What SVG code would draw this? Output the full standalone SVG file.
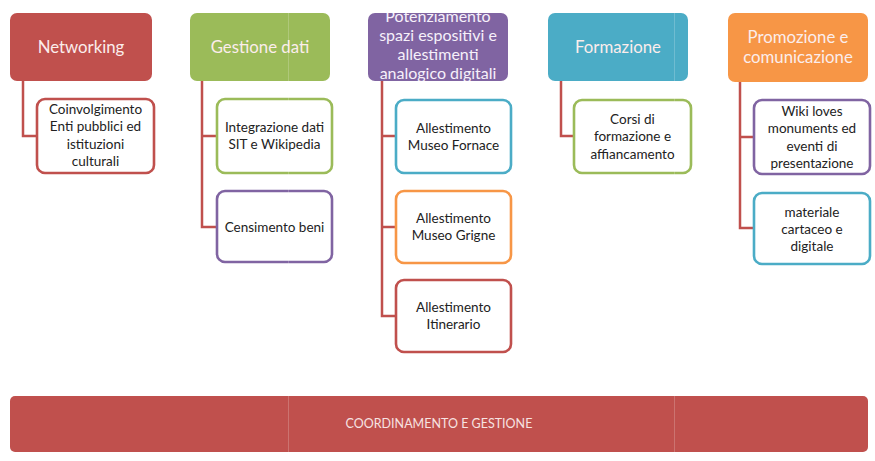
<svg xmlns="http://www.w3.org/2000/svg" width="875" height="461" viewBox="0 0 875 461">
<style>
  .hdr { stroke: none; }
  .ht { font-family: Lato, "Liberation Sans", sans-serif; font-size: 16.8px; fill: #FBEDEC; text-anchor: middle; }
  .pt { font-family: Lato, "Liberation Sans", sans-serif; font-size: 16px; fill: #F6F0FA; text-anchor: middle; }
  .box { fill: #FFFFFF; stroke-width: 2.6; }
  .ct { font-family: Lato, "Liberation Sans", sans-serif; font-size: 13.5px; fill: #222222; text-anchor: middle; }
  .conn { fill: none; stroke: #C0504D; stroke-width: 2.5; }
  .bt { font-family: Lato, "Liberation Sans", sans-serif; font-size: 12.5px; fill: #F7E3E2; text-anchor: middle; }
  .red { stroke: #C0504D; }
  .green { stroke: #9BBB59; }
  .purple { stroke: #8064A2; }
  .teal { stroke: #4BACC6; }
  .orange { stroke: #F79646; }
</style>
<defs>
  <clipPath id="potClip">
    <rect x="368" y="13" width="140" height="68" rx="7"/>
  </clipPath>
</defs>
<rect x="0" y="0" width="875" height="461" fill="#FFFFFF"/>

<g id="connectors">
  <path class="conn" d="M23,81 V136 H37"/>
  <path class="conn" d="M202,81 V227 H217 M202,136 H217"/>
  <path class="conn" d="M382,81 V316 H396 M382,136 H396 M382,227 H396"/>
  <path class="conn" d="M561,81 V136 H574"/>
  <path class="conn" d="M740,82 V228 H754 M740,137 H754"/>
</g>

<g id="networking">
  <rect class="hdr" x="10" y="13" width="142" height="68" rx="7" fill="#C0504D"/>
  <text class="ht" x="81" y="53">Networking</text>
</g>
<g id="coinvolgimento">
  <rect class="box red" x="37" y="99" width="117" height="74" rx="8"/>
  <text class="ct" x="95.5" y="114">Coinvolgimento</text>
  <text class="ct" x="95.5" y="131.3">Enti pubblici ed</text>
  <text class="ct" x="95.5" y="148.6">istituzioni</text>
  <text class="ct" x="95.5" y="165.9">culturali</text>
</g>

<g id="gestione">
  <rect class="hdr" x="190" y="13" width="140" height="68" rx="7" fill="#9BBB59"/>
  <text class="ht" x="260" y="53">Gestione dati</text>
</g>
<g id="integrazione">
  <rect class="box green" x="217" y="99" width="115" height="74" rx="8"/>
  <text class="ct" x="274.5" y="132">Integrazione dati</text>
  <text class="ct" x="274.5" y="149.3">SIT e Wikipedia</text>
</g>
<g id="censimento">
  <rect class="box purple" x="217" y="191" width="115" height="71" rx="8"/>
  <text class="ct" x="274.5" y="231.5">Censimento beni</text>
</g>

<g id="potenziamento">
  <rect class="hdr" x="368" y="13" width="140" height="68" rx="7" fill="#8064A2"/>
  <g clip-path="url(#potClip)">
    <text class="pt" x="438" y="21.5">Potenziamento</text>
    <text class="pt" x="438" y="41">spazi espositivi e</text>
    <text class="pt" x="438" y="60">allestimenti</text>
    <text class="pt" x="438" y="78.5">analogico digitali</text>
  </g>
</g>
<g id="fornace">
  <rect class="box teal" x="396" y="100" width="115" height="73" rx="8"/>
  <text class="ct" x="453.5" y="132.5">Allestimento</text>
  <text class="ct" x="453.5" y="149.8">Museo Fornace</text>
</g>
<g id="grigne">
  <rect class="box orange" x="396" y="191" width="115" height="72" rx="8"/>
  <text class="ct" x="453.5" y="222.5">Allestimento</text>
  <text class="ct" x="453.5" y="239.8">Museo Grigne</text>
</g>
<g id="itinerario">
  <rect class="box red" x="396" y="280" width="115" height="72" rx="8"/>
  <text class="ct" x="453.5" y="311.5">Allestimento</text>
  <text class="ct" x="453.5" y="328.8">Itinerario</text>
</g>

<g id="formazione">
  <rect class="hdr" x="548" y="13" width="140" height="68" rx="7" fill="#4BACC6"/>
  <text class="ht" x="618" y="53">Formazione</text>
</g>
<g id="corsi">
  <rect class="box green" x="574" y="100" width="117" height="73" rx="8"/>
  <text class="ct" x="632.5" y="124">Corsi di</text>
  <text class="ct" x="632.5" y="141.3">formazione e</text>
  <text class="ct" x="632.5" y="158.6">affiancamento</text>
</g>

<g id="promozione">
  <rect class="hdr" x="728" y="13" width="140" height="69" rx="7" fill="#F79646"/>
  <text class="ht" x="798" y="43">Promozione e</text>
  <text class="ht" x="798" y="63">comunicazione</text>
</g>
<g id="wiki">
  <rect class="box purple" x="754" y="100" width="116" height="74" rx="8"/>
  <text class="ct" x="812" y="116">Wiki loves</text>
  <text class="ct" x="812" y="133.3">monuments ed</text>
  <text class="ct" x="812" y="150.6">eventi di</text>
  <text class="ct" x="812" y="167.9">presentazione</text>
</g>
<g id="materiale">
  <rect class="box teal" x="754" y="193" width="116" height="71" rx="8"/>
  <text class="ct" x="812" y="216.5">materiale</text>
  <text class="ct" x="812" y="233.8">cartaceo e</text>
  <text class="ct" x="812" y="251.1">digitale</text>
</g>

<g id="coordinamento">
  <rect class="hdr" x="10" y="396" width="858" height="56" rx="5" fill="#C0504D"/>
  <text class="bt" x="439" y="428">COORDINAMENTO E GESTIONE</text>
</g>

<g id="seams" stroke="#FFFFFF" stroke-opacity="0.2" stroke-width="1">
  <line x1="288.5" y1="0" x2="288.5" y2="461"/>
  <line x1="674.5" y1="0" x2="674.5" y2="461"/>
</g>
</svg>
